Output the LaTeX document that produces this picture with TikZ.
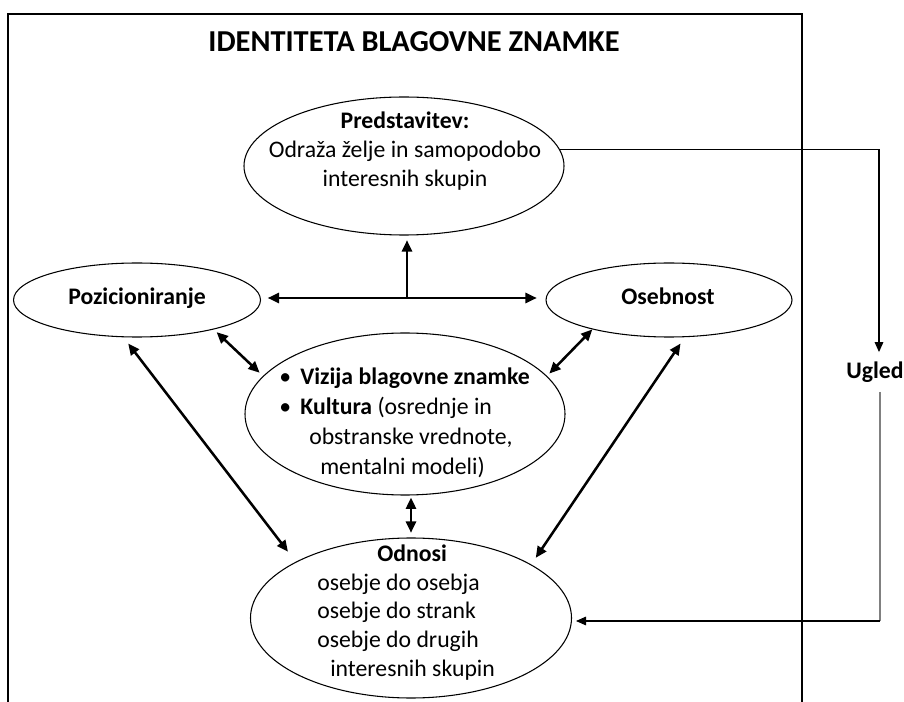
\documentclass[tikz,border=0pt]{standalone}
\usepackage{fontspec}
\setmainfont{Carlito}
\usetikzlibrary{arrows.meta,shapes.geometric}
\begin{document}
\begin{tikzpicture}[x=0.75pt,y=-0.75pt,
  every node/.style={inner sep=0pt},
  oval/.style={ellipse, draw, line width=0.8pt},
  body/.style={font=\fontsize{17.8}{21.6}\selectfont},
  thk/.style={line width=1.9pt},
  dbl/.style={thk, {Triangle[length=8.5pt,width=7.5pt]}-{Triangle[length=8.5pt,width=7.5pt]}},
  sgl/.style={thk, -{Triangle[length=8.5pt,width=7.5pt]}},
  thn/.style={line width=0.8pt, -{Triangle[length=7.5pt,width=6.5pt]}},
]
\useasboundingbox (0,0) rectangle (904,702);
% frame
\draw[line width=0.9pt] (8,702) -- (8,14) -- (802,14) -- (802,702);

% title
\node (title) at (414,41.5) {\fontsize{22.8}{27}\selectfont\bfseries IDENTITETA BLAGOVNE ZNAMKE};

% ellipses
\node[oval, minimum width=240pt, minimum height=103.5pt] (pred) at (404,166) {};
\node[oval, minimum width=185.25pt, minimum height=55.5pt] (poz) at (137,300) {};
\node[oval, minimum width=184.5pt, minimum height=55.5pt] (oseb) at (669,300) {};
\node[oval, minimum width=240pt, minimum height=121.5pt] (viz) at (405,414) {};
\node[oval, minimum width=240.75pt, minimum height=120pt] (odn) at (411,618) {};

% texts
\node[body, align=center] (predtxt) at (405,151) {\textbf{Predstavitev:}\\Odraža želje in samopodobo\\interesnih skupin};
\node[body, anchor=base] (poztxt) at (137,305) {\textbf{Pozicioniranje}};
\node[body, anchor=base] (osebtxt) at (668,305) {\textbf{Osebnost}};
\node[body, anchor=base] (ugled) at (875,379) {\textbf{Ugled}};
\node[font=\fontsize{17.8}{22.5}\selectfont, align=left, anchor=west] (viztxt) at (279,423)
  {\makebox[15.75pt][l]{\textbullet}\textbf{Vizija blagovne znamke}\\
   \makebox[15.75pt][l]{\textbullet}\textbf{Kultura} (osrednje in\\
   \hspace*{22.5pt}obstranske vrednote,\\
   \hspace*{30.75pt}mentalni modeli)};
\node[body, align=left, anchor=west] (odntxt) at (317,612.5)
  {\hspace*{45pt}\textbf{Odnosi}\\
   osebje do osebja\\
   osebje do strank\\
   osebje do drugih\\
   \hspace*{9.75pt}interesnih skupin};

% connectors
\coordinate (hub) at (407,298);
\draw[dbl, shorten <=5pt, shorten >=6.5pt] (poz.east |- hub) -- (oseb.west |- hub);
\draw[sgl, shorten >=3.5pt] (hub) -- (hub |- pred.south);
\draw[dbl, shorten <=2.9pt, shorten >=3.5pt] (poz.-21.4) -- (viz.165);
\draw[dbl, shorten >=2.5pt] (oseb.-159.4) -- (viz.15.9);
\draw[dbl, shorten <=5.9pt, shorten >=9.5pt] (poz.-110.4) -- (odn.154.7);
\draw[dbl, shorten <=5.7pt, shorten >=6pt] (oseb.-67.4) -- (odn.24.8);
\draw[dbl, shorten <=1.5pt, shorten >=3.5pt] (viz.south -| odn.north) -- (odn.north);

% outer loop
\draw[thn, shorten >=7.5pt] (pred.6) -| ([xshift=3pt]ugled.north);
\coordinate (ubend) at (880,621);
\draw[gray, line width=1.1pt, shorten <=6.5pt] ([xshift=3.75pt]ugled.south) -- (ubend);
\draw[thn, shorten >=3pt] (ubend) -- (odn.east |- ubend);
\end{tikzpicture}
\end{document}
